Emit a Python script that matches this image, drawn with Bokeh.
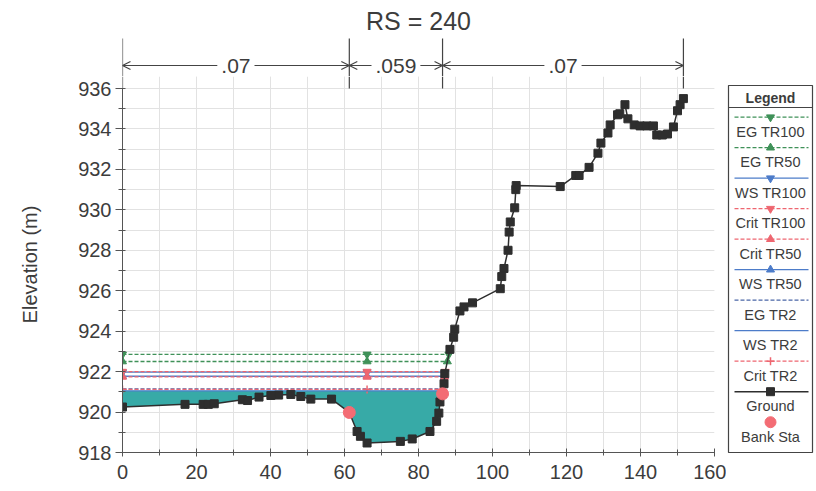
import numpy as np
from bokeh.plotting import figure
from bokeh.layouts import row, column
from bokeh.models import Range1d, SingleIntervalTicker, Arrow, OpenHead, Label
from bokeh.core.properties import value
from bokeh.embed import file_html
from bokeh.resources import INLINE

# ---------------- data ----------------
title_text = "RS = 240"
y_label = "Elevation (m)"

ground_sta = [0, 16.9, 21.8, 23.2, 24.8, 32.4, 33.8, 36.9, 40.1, 42.2, 45.5, 48.2, 50.9, 56.5,
              61.3, 63.4, 64.3, 66.1, 75.1, 78.3, 83.1, 84.9, 85.5, 85.8, 86.5, 86.9, 87.1,
              88.5, 89.5, 89.8, 91.2, 92.3, 94.6, 102.1, 102.5, 103.1, 104.2, 104.5, 104.8,
              106.0, 106.3, 106.4, 118.3, 122.5, 123.4, 126.1, 128.5, 129.3, 131.2, 131.8,
              133.8, 134.4, 135.8, 136.6, 138.3, 139.9, 141.7, 143.5, 144.4, 145.9, 147.3,
              148.9, 150.0, 150.7, 151.6]
ground_elev = [920.25, 920.38, 920.38, 920.38, 920.41, 920.61, 920.57, 920.74, 920.82, 920.84,
               920.87, 920.77, 920.64, 920.64, 919.98, 919.04, 918.80, 918.47, 918.55, 918.67,
               919.04, 919.54, 919.95, 920.50, 920.90, 921.40, 921.90, 923.10, 923.70, 924.10,
               925.00, 925.20, 925.40, 926.10, 926.70, 927.10, 928.00, 928.90, 929.40, 930.10,
               931.00, 931.20, 931.15, 931.70, 931.70, 932.10, 932.80, 933.30, 933.80, 934.20,
               934.70, 934.75, 935.20, 934.50, 934.20, 934.15, 934.15, 934.15, 933.70, 933.70,
               933.75, 934.10, 934.90, 935.20, 935.50]

bank_sta = [61.3, 86.5]

# profiles: name, elevation
prof_names = ["EG TR100", "EG TR50", "WS TR100", "Crit TR100", "Crit TR50", "WS TR50",
              "EG TR2", "WS TR2", "Crit TR2"]
prof_elev = [922.85, 922.50, 921.97, 922.00, 921.74, 921.77, 921.15, 921.05, 921.12]
marker_sta = [0, 66.1]

# Manning's n regions
n_values = [".07", ".059", ".07"]

# axis extents
x_min, x_max = 0, 160
y_min, y_max = 918, 936

# legend entries
legend_names = ["EG TR100", "EG TR50", "WS TR100", "Crit TR100", "Crit TR50", "WS TR50",
                "EG TR2", "WS TR2", "Crit TR2", "Ground", "Bank Sta"]

# ---------------- styles ----------------
GREEN = "#3f9158"
RED = "#ee6670"
BLUE = "#4d7cc9"
DBLUE = "#4a66a6"
WATER = "#37aaa7"
GROUND = "#2e2e2e"
BANK = "#f36c74"
TXT = "#3c3c3c"
FONT = "Liberation Sans"

style = {
    "EG TR100": (GREEN, "4 2", "inverted_triangle"),
    "EG TR50": (GREEN, "4 2", "triangle"),
    "WS TR100": (BLUE, "solid", "inverted_triangle"),
    "Crit TR100": (RED, "4 2", "inverted_triangle"),
    "Crit TR50": (RED, "4 2", "triangle"),
    "WS TR50": (BLUE, "solid", "triangle"),
    "EG TR2": (DBLUE, "4 2", None),
    "WS TR2": (BLUE, "solid", None),
    "Crit TR2": (RED, "4 2", "cross"),
}

gs = np.array(ground_sta, dtype=float)
ge = np.array(ground_elev, dtype=float)
thalweg = int(np.argmin(ge))


def right_end(level):
    for i in range(thalweg + 1, len(gs)):
        if ge[i] >= level:
            return float(np.interp(level, [ge[i - 1], ge[i]], [gs[i - 1], gs[i]]))
    return float(gs[-1])


# layout sizes (px)
MAIN_W = 726
BL, BR = 122, 12
TOP_H = 76
FRAME_H = 364          # 918..936
PAD_TOP = 12           # extra frame above 936 so the top tick label is not cut
BOTTOM = 36
y_top = y_max + PAD_TOP * (y_max - y_min) / FRAME_H

XR = Range1d(x_min, x_max)

# ---------------- main plot ----------------
p = figure(width=MAIN_W, height=FRAME_H + PAD_TOP + BOTTOM, x_range=XR, y_range=Range1d(y_min, y_top),
           output_backend="svg", toolbar_location=None,
           min_border_left=BL, min_border_right=BR, min_border_top=0, min_border_bottom=BOTTOM)
p.outline_line_color = None
p.background_fill_color = "white"

p.xaxis.ticker = SingleIntervalTicker(interval=20, num_minor_ticks=2)
p.yaxis.ticker = SingleIntervalTicker(interval=2, num_minor_ticks=2)
p.yaxis.bounds = (y_min, y_max)
for g in (p.xgrid, p.ygrid):
    g.grid_line_color = "#e2e2e2"
    g.minor_grid_line_color = "#e2e2e2"

for ax in (p.xaxis, p.yaxis):
    ax.axis_line_color = "#555555"
    ax.major_tick_line_color = "#555555"
    ax.minor_tick_line_color = "#555555"
    ax.major_label_text_font = FONT
    ax.major_label_text_font_size = "20px"
    ax.major_label_text_color = TXT
p.yaxis.major_tick_out = 7
p.yaxis.major_tick_in = 0
p.yaxis.minor_tick_out = 4
p.yaxis.minor_tick_in = 3
p.yaxis.major_label_standoff = 4
p.xaxis.major_tick_out = 4
p.xaxis.major_tick_in = 4
p.xaxis.minor_tick_out = 3
p.xaxis.minor_tick_in = 3
p.xaxis.major_label_standoff = 8
p.yaxis.axis_label = y_label
p.yaxis.axis_label_text_font = FONT
p.yaxis.axis_label_text_font_size = "20px"
p.yaxis.axis_label_text_font_style = "normal"
p.yaxis.axis_label_text_color = TXT
p.yaxis.axis_label_standoff = 34

# water fill for WS TR2
ws2 = prof_elev[prof_names.index("WS TR2")]
xe2 = right_end(ws2)
fx = np.concatenate([gs[gs < xe2], [xe2]])
fy = np.interp(fx, gs, ge)
p.varea(x=fx, y1=np.minimum(fy, ws2), y2=np.full_like(fx, ws2), fill_color=WATER)

# profile lines
draw_order = ["EG TR2", "Crit TR2", "WS TR2", "WS TR50", "WS TR100", "Crit TR50", "Crit TR100",
              "EG TR50", "EG TR100"]
for name in draw_order:
    lvl = prof_elev[prof_names.index(name)]
    col, dash, mk = style[name]
    xe = right_end(lvl)
    p.line([0, xe], [lvl, lvl], line_color=col, line_dash=dash, line_width=1.3)
    if mk:
        xs = list(marker_sta) + [xe]
        if mk == "cross":
            p.scatter(xs, [lvl] * len(xs), marker=mk, size=8, line_color=col, line_width=1.5)
        else:
            p.scatter(xs, [lvl] * len(xs), marker=mk, size=8, fill_color=col, line_color=col)

# ground
p.line(gs, ge, line_color=GROUND, line_width=1.5)
p.scatter(gs, ge, marker="square", size=8, fill_color=GROUND, line_color=GROUND)

# bank stations
be = np.interp(bank_sta, gs, ge)
p.scatter(bank_sta, be, marker="circle", size=12, fill_color=BANK, line_color=BANK)

# n-value bracket lines continue down to the top of the plot area
n_breaks = [ground_sta[0], bank_sta[0], bank_sta[1], ground_sta[-1]]
p.segment(x0=n_breaks, y0=[y_max] * 4, x1=n_breaks, y1=[y_top] * 4, line_color="#444444", line_width=1.2)

# ---------------- top strip (title + n-value brackets) ----------------
top = figure(width=MAIN_W, height=TOP_H, x_range=XR, y_range=Range1d(0, TOP_H),
             x_axis_type=None, y_axis_type=None, output_backend="svg", toolbar_location=None,
             min_border_left=BL, min_border_right=BR, min_border_top=0, min_border_bottom=0)
top.outline_line_color = None
top.grid.visible = False

top.segment(x0=n_breaks, y0=[0] * 4, x1=n_breaks, y1=[38] * 4, line_color="#444444", line_width=1.2)
for i, nv in enumerate(n_values):
    a, b = n_breaks[i], n_breaks[i + 1]
    top.add_layout(Arrow(x_start=a, x_end=b, y_start=11, y_end=11,
                         start=OpenHead(size=8, line_color="#444444", line_width=1.2),
                         end=OpenHead(size=8, line_color="#444444", line_width=1.2),
                         line_color="#444444", line_width=1.2))
    top.add_layout(Label(x=(a + b) / 2, y=11, text=nv, text_align="center", text_baseline="middle",
                         text_font=FONT, text_font_size="21px", text_color=TXT,
                         background_fill_color="white", padding=4))
top.add_layout(Label(x=(x_min + x_max) / 2, y=56, text=title_text, text_align="center",
                     text_baseline="middle", text_font=FONT, text_font_size="25px", text_color=TXT))

# ---------------- legend panel ----------------
LW, LH = 88, TOP_H + FRAME_H + PAD_TOP + BOTTOM
lg = figure(width=LW, height=LH, x_range=Range1d(0, LW), y_range=Range1d(LH, 0),
            x_axis_type=None, y_axis_type=None, output_backend="svg", toolbar_location=None,
            min_border=0)
lg.outline_line_color = None
lg.grid.visible = False

bx0, bx1, by0, by1 = 2, 86, 85, 452
lg.quad(left=[bx0], right=[bx1], top=[by0], bottom=[by1], fill_color=None,
        line_color="#444444", line_width=1.2)
lg.segment(x0=[bx0], x1=[bx1], y0=[107], y1=[107], line_color="#444444", line_width=1.2)
lg.text(x=[(bx0 + bx1) / 2], y=[97], text=["Legend"], text_align="center", text_baseline="middle",
        text_font=value(FONT), text_font_size="14px", text_font_style="bold", text_color=TXT)

for i, name in enumerate(legend_names):
    yl = 116.7 + 30.5 * i
    yt = yl + 14.5
    xm = (bx0 + bx1) / 2
    if name in style:
        col, dash, mk = style[name]
        lg.line([bx0 + 6, bx1 - 4], [yl, yl], line_color=col, line_dash=dash, line_width=1.2)
        if mk == "cross":
            lg.scatter([xm], [yl], marker=mk, size=8, line_color=col, line_width=1.5)
        elif mk:
            lg.scatter([xm], [yl], marker=mk, size=8, fill_color=col, line_color=col)
    elif name == "Ground":
        lg.line([bx0 + 6, bx1 - 4], [yl, yl], line_color=GROUND, line_width=1.5)
        lg.scatter([xm], [yl], marker="square", size=8, fill_color=GROUND, line_color=GROUND)
    elif name == "Bank Sta":
        lg.scatter([xm], [yl], marker="circle", size=11, fill_color=BANK, line_color=BANK)
    lg.text(x=[xm], y=[yt], text=[name], text_align="center", text_baseline="middle",
            text_font=value(FONT), text_font_size="14.5px", text_color=TXT)

layout = row(column(top, p), lg)
open("out.html", "w").write(file_html(layout, INLINE))
